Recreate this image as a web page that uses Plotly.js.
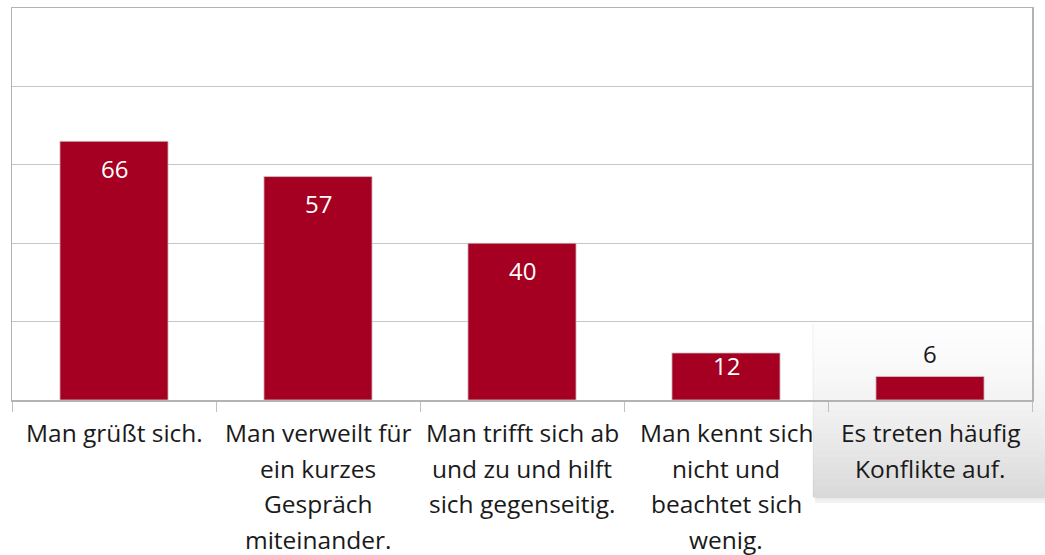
<!DOCTYPE html>
<html>
<head>
<meta charset="utf-8">
<script src="https://cdn.plot.ly/plotly-3.0.1.min.js"></script>
<style>html,body{margin:0;padding:0;background:#fff;}#chart{width:1045px;height:555px;}</style>
</head>
<body>
<div id="chart"></div>
<script>
const categories = ["Man grüßt sich.", "Man verweilt für ein kurzes Gespräch miteinander.", "Man trifft sich ab und zu und hilft sich gegenseitig.", "Man kennt sich nicht und beachtet sich wenig.", "Es treten häufig Konflikte auf."];
const tickLabels = [
  ["Man grüßt sich."],
  ["Man verweilt für", "ein kurzes", "Gespräch", "miteinander."],
  ["Man trifft sich ab", "und zu und hilft", "sich gegenseitig."],
  ["Man kennt sich", "nicht und", "beachtet sich", "wenig."],
  ["Es treten häufig", "Konflikte auf."]
];
const values = [66, 57, 40, 12, 6];

const FONT = "'Open Sans', sans-serif";
const BAR = "#A50021";

const annotations = [];
values.forEach((v, i) => {
  let yshift, color;
  if (v >= 20) { yshift = -27; color = "#ffffff"; }
  else if (v >= 10) { yshift = -13; color = "#ffffff"; }
  else { yshift = 23; color = "#1a1a1a"; }
  annotations.push({
    x: categories[i], y: v, xref: "x", yref: "y",
    text: String(v), showarrow: false, yanchor: "middle", yshift: yshift,
    font: {family: FONT, size: 24, color: color}
  });
});
tickLabels.forEach((lines, i) => {
  lines.forEach((ln, j) => {
    annotations.push({
      x: categories[i], y: 0, xref: "x", yref: "paper",
      text: ln, showarrow: false, yanchor: "top", yshift: -14 - j * 35.5,
      font: {family: FONT, size: 24.5, color: "#1a1a1a"}
    });
  });
});

// highlighted box (gradient) behind last label
const shapes = [];
const x0 = 813, x1 = 1046, yTop = 323, yBot = 497;
const steps = 30;
for (let s = 0; s < steps; s++) {
  const t0 = s / steps, t1 = (s + 1) / steps;
  const ya = yTop + (yBot - yTop) * t0, yb = yTop + (yBot - yTop) * t1 + 0.5;
  const g = Math.round(253 - 38 * Math.pow(t0, 1.6));
  shapes.push({type: "rect", xref: "paper", yref: "paper", layer: "below",
    x0: (x0 - 12) / 1020, x1: (x1 - 12) / 1020,
    y0: (400 - yb) / 392, y1: (400 - ya) / 392,
    line: {width: 0}, fillcolor: `rgb(${g},${g},${g})`});
}
// soft shadow at bottom and left
[["rgba(0,0,0,0.08)", 0, 3], ["rgba(0,0,0,0.05)", 3, 6]].forEach(([c, a, b]) => {
  shapes.push({type: "rect", xref: "paper", yref: "paper", layer: "below",
    x0: (x0 + 2 - 12) / 1020, x1: (x1 - 12) / 1020,
    y0: (400 - (yBot + b)) / 392, y1: (400 - (yBot + a)) / 392,
    line: {width: 0}, fillcolor: c});
});
shapes.push({type: "line", xref: "paper", yref: "paper", layer: "below",
  x0: (x0 - 12) / 1020, x1: (x0 - 12) / 1020,
  y0: (400 - yBot) / 392, y1: (400 - yTop) / 392,
  line: {width: 1, color: "rgba(0,0,0,0.06)"}});

const trace = {
  type: "bar", x: categories, y: values,
  marker: {color: BAR, line: {color: "#c9c9c9", width: 0.8}},
  width: 0.53, hoverinfo: "none"
};

const layout = {
  width: 1045, height: 555,
  margin: {l: 12, r: 13, t: 8, b: 155, pad: 0},
  paper_bgcolor: "rgba(0,0,0,0)", plot_bgcolor: "rgba(0,0,0,0)",
  showlegend: false,
  font: {family: FONT, size: 22, color: "#1a1a1a"},
  xaxis: {
    type: "category", tickson: "boundaries", ticks: "outside", ticklen: 10,
    tickcolor: "#bfbfbf", tickwidth: 1, showticklabels: false,
    showgrid: false, showline: true, linecolor: "#b3b3b3", linewidth: 1.5, mirror: true,
    zeroline: false, fixedrange: true
  },
  yaxis: {
    range: [0, 100], dtick: 20, tick0: 0, showticklabels: false, ticks: "",
    showgrid: true, gridcolor: "#c6c6c6", gridwidth: 1,
    showline: true, linecolor: "#b3b3b3", linewidth: 1.5, mirror: true,
    zeroline: false, fixedrange: true
  },
  annotations: annotations,
  shapes: shapes
};

Plotly.newPlot("chart", [trace], layout, {displayModeBar: false, staticPlot: true});
</script>
</body>
</html>
